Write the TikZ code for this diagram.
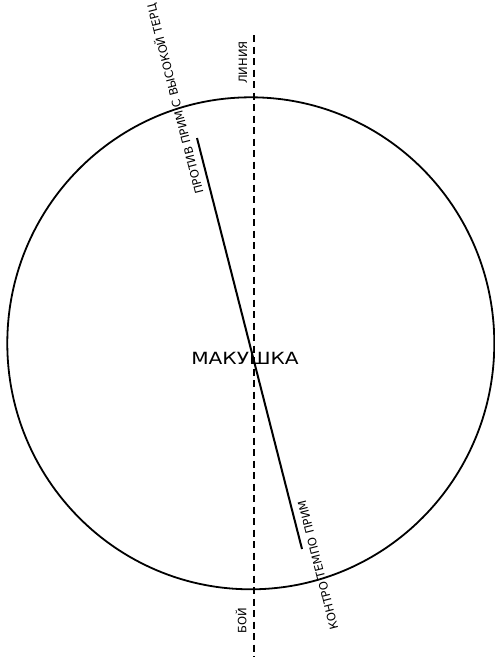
\documentclass[tikz,border=0pt]{standalone}
\usepackage{fontspec}
\setmainfont{DejaVu Sans}
\usetikzlibrary{shapes.geometric}
\begin{document}
\begin{tikzpicture}[x=1pt,y=-1pt,
  outline/.style={draw=black,line width=1.8pt},
  stroke/.style={draw=black,line width=2pt},
  axis/.style={draw=black,line width=1.6pt,dash pattern=on 7pt off 4.5pt},
  lbl/.style={inner sep=0pt,font=\fontsize{11.5}{12}\selectfont,text=black},
  bigl/.style={inner sep=0pt,font=\fontsize{16.8}{18}\selectfont,text=black}]
\useasboundingbox (0,0) rectangle (495,657);
\node[outline,ellipse,minimum width=487pt,minimum height=492pt,inner sep=0pt] (circ) at (250.8,343.3) {};
\coordinate (ltop) at (254,35);
\coordinate (lbot) at (254,657);
\draw[axis] (ltop) -- (lbot);
\coordinate (stop) at (197,138);
\coordinate (sbot) at (302,549);
\draw[stroke] (stop) -- (sbot);
\node[bigl] (mak) at (245,358) {\scalebox{1.2}[1]{МАКУШКА}};
\node[lbl,rotate=90] (lin) at (243,62.5) {ЛИНИЯ};
\node[lbl,rotate=90] (boi) at (241,621) {БОЙ};
\node[lbl,rotate=104.33] (prot) at (175,99) {ПРОТИВ ПРИМ С ВЫСОКОЙ ТЕРЦ};
\node[lbl,rotate=104.33] (kont) at (318,565) {КОНТРО ТЕМПО ПРИМ};
\end{tikzpicture}
\end{document}
